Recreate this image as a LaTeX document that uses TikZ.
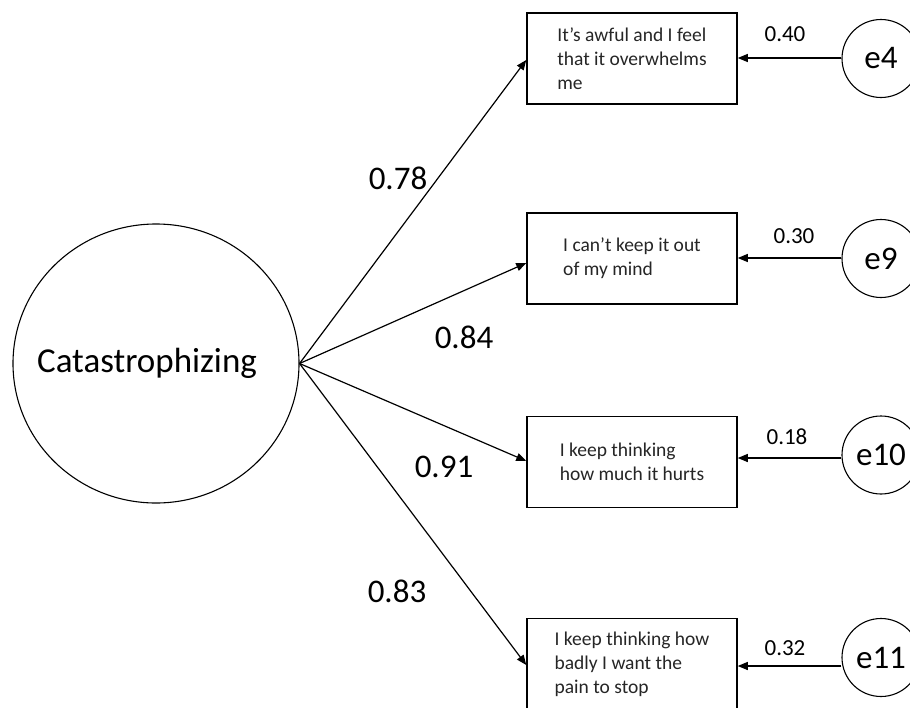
\documentclass[tikz,border=0pt]{standalone}
\usepackage{fontspec}
\setmainfont{Carlito}
\usetikzlibrary{arrows.meta,shapes.geometric}
\begin{document}
\begin{tikzpicture}[x=1pt,y=-1pt,
  latent/.style={draw, ellipse, line width=1.1pt, inner sep=0pt, minimum width=286pt, minimum height=279pt, font=\fontsize{35}{42}\selectfont},
  err/.style={draw, circle, line width=1.1pt, inner sep=0pt, minimum size=78pt, font=\fontsize{33}{40}\selectfont},
  item/.style={draw, rectangle, line width=1.5pt, minimum width=210pt, minimum height=91pt, inner sep=0pt, align=left, text=black!85, font=\fontsize{19.5}{24}\selectfont},
  arr/.style={-{Triangle[length=10pt,width=8pt]}, line width=1.2pt},
  big/.style={font=\fontsize{33}{40}\selectfont, inner sep=0pt},
  small/.style={font=\fontsize{23}{28}\selectfont, inner sep=0pt}]
\fill[white] (0,0) rectangle (910,707);
\useasboundingbox (0,0) rectangle (910,707);

% latent variable
\node[latent] (cat) at (156,363.5) {\makebox[0pt]{Catastrophizing\hspace*{18pt}}};

% indicator boxes
\node[item] (b1) at (632,58.25) {It’s awful and I feel\\that it overwhelms\\me};
\node[item] (b2) at (632,258.5) {I can’t keep it out\\of my mind};
\node[item] (b3) at (632,462) {I keep thinking\\how much it hurts};
\node[item] (b4) at (632,664) {I keep thinking how\\badly I want the\\pain to stop};

% error terms
\node[err] (e4)  at (881,58.5) {e4};
\node[err] (e9)  at (881,258.5) {e9};
\node[err] (e10) at (881,455) {e10};
\node[err] (e11) at (881,657.5) {e11};

% heights of connectors
\coordinate (h1) at (0,60);
\coordinate (h2) at (0,263);
\coordinate (h3) at (0,461);
\coordinate (h4) at (0,665);
\coordinate (g1) at (0,58);
\coordinate (g2) at (0,258);
\coordinate (g3) at (0,458);
\coordinate (g4) at (0,666);

% loadings
\draw[arr] (cat.east) -- (b1.west |- h1);
\draw[arr] (cat.east) -- (b2.west |- h2);
\draw[arr] (cat.east) -- (b3.west |- h3);
\draw[arr] (cat.east) -- (b4.west |- h4);

% error paths
\draw[arr] (e4.west |- g1) -- (b1.east |- g1);
\draw[arr] (e9.west |- g2) -- (b2.east |- g2);
\draw[arr] (e10.west |- g3) -- (b3.east |- g3);
\draw[arr] (e11.west |- g4) -- (b4.east |- g4);

% loading labels
\node[big] (l1) at (398,178) {0.78};
\node[big] (l2) at (464,337) {0.84};
\node[big] (l3) at (444,467) {0.91};
\node[big] (l4) at (397,591) {0.83};

% error labels
\node[small] (r1) at (785,34) {0.40};
\node[small] (r2) at (794,236) {0.30};
\node[small] (r3) at (787,437) {0.18};
\node[small] (r4) at (785,648) {0.32};
\end{tikzpicture}
\end{document}
